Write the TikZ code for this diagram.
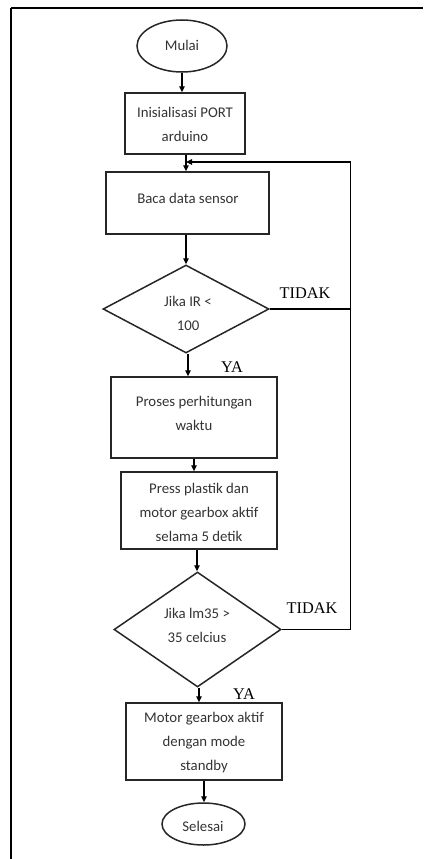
\documentclass[tikz,border=0pt]{standalone}
\usepackage{fontspec}
\setmainfont{Liberation Serif}
\newfontfamily\boxfont{Carlito}
\usetikzlibrary{shapes.geometric,arrows.meta}
\begin{document}
\begin{tikzpicture}[x=1pt,y=-1pt,
  line width=1.5pt,
  boxshape/.style={draw=black!85, rectangle, minimum width=#1, inner sep=0pt},
  term/.style={draw=black!85, ellipse, inner sep=0pt},
  decis/.style={draw=black!85, diamond, inner sep=0pt},
  txt/.style={align=center, inner sep=0pt, text=black!80, font=\boxfont\fontsize{14.8}{24}\selectfont},
  lbl/.style={inner sep=0pt, font=\fontsize{16.3}{18}\selectfont},
  arr/.style={-{Triangle[length=6pt,width=5.5pt]}, line width=1.3pt}]
\useasboundingbox (0,0) rectangle (423,859);
% frame
\draw[line width=2pt] (11,8) -- (423,8);
\draw[line width=2pt] (11,8) -- (11,859);
% shapes
\node[term, minimum width=90pt, minimum height=52pt] (mulai) at (182,46) {};
\node[boxshape=120pt, minimum height=61pt] (init) at (185,123.5) {};
\node[boxshape=163pt, minimum height=62pt] (baca) at (187.5,203) {};
\node[decis, minimum width=166pt, minimum height=88pt] (d1) at (186,309) {};
\node[boxshape=166pt, minimum height=81pt] (proses) at (194,417.5) {};
\node[boxshape=156pt, minimum height=77pt] (press) at (199,510.5) {};
\node[decis, minimum width=167pt, minimum height=115pt] (d2) at (197.5,629.5) {};
\node[boxshape=156pt, minimum height=77pt] (motor) at (204,741.5) {};
\node[term, minimum width=83pt, minimum height=42pt] (selesai) at (203.5,824) {};
% texts
\node[txt] (tmulai) at (182,45) {Mulai};
\node[txt] (tinit) at (185,124.5) {Inisialisasi PORT\\arduino};
\node[txt] (tbaca) at (188,198) {Baca data sensor};
\node[txt] (td1) at (188,313) {Jika IR <\\100};
\node[txt] (tproses) at (194,413) {Proses perhitungan\\waktu};
\node[txt] (tpress) at (199,512) {Press plastik dan\\motor gearbox aktif\\selama 5 detik};
\node[txt] (td2) at (197,625) {Jika lm35 >\\35 celcius};
\node[txt] (tmotor) at (204,743) {Motor gearbox aktif\\dengan mode\\standby};
\node[txt] (tselesai) at (203,826) {Selesai};
% labels
\node[lbl] (tidak1) at (305,293) {TIDAK};
\node[lbl] (ya1) at (232,367) {YA};
\node[lbl] (tidak2) at (312,608) {TIDAK};
\node[lbl] (ya2) at (244,694) {YA};
% connectors
\coordinate (join) at (186,162);
\coordinate (rt) at (350.5,162);
\draw[arr] (mulai.south) -- (mulai.south |- init.north);
\draw[arr] (join |- init.south) -- (join |- baca.north);
\draw[arr] (186,0 |- baca.south) -- (186,0 |- d1.north);
\draw[arr] (188,0 |- d1.south) -- (188,0 |- proses.north);
\draw[arr] (proses.south) -- (proses.south |- press.north);
\draw[arr] (197,0 |- press.south) -- (197,0 |- d2.north);
\draw[arr] (199,0 |- d2.south) -- (199,0 |- motor.north);
\draw[arr] (motor.south) -- (motor.south |- selesai.north);
\draw (d1.east) -- (d1.east -| rt);
\draw[arr] (d2.east) -| (rt) -- (join);
\end{tikzpicture}
\end{document}
